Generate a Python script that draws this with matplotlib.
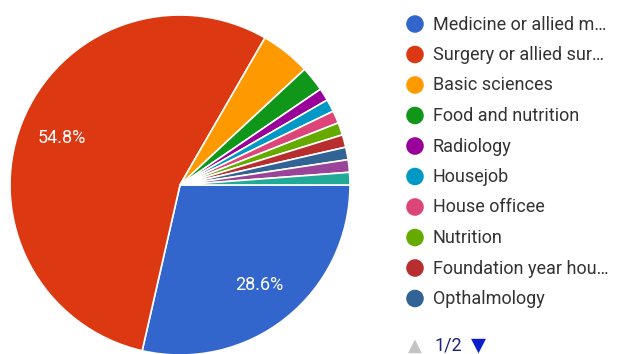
import matplotlib
matplotlib.use("Agg")
import matplotlib.pyplot as plt

# responses per category (84 in total)
labels = ["Medicine or allied m\u2026", "Surgery or allied sur\u2026", "Basic sciences",
          "Food and nutrition", "Radiology", "Housejob", "House officee", "Nutrition",
          "Foundation year hou\u2026", "Opthalmology", "Other A", "Other B"]
counts = [24, 46, 4, 2, 1, 1, 1, 1, 1, 1, 1, 1]
colors = ["#3366cc", "#dc3912", "#ff9900", "#109618", "#990099", "#0099c6",
          "#dd4477", "#66aa00", "#b82e2e", "#316395", "#994499", "#22aa99"]
legend_rows = 10  # first page of the legend

W, H = 619, 354
fig = plt.figure(figsize=(W / 100, H / 100), dpi=100)
plt.rcParams['font.family'] = ['Roboto', 'DejaVu Sans']

cx, cy, r = 180, 185, 170
ax = fig.add_axes([(cx - r) / W, (H - cy - r) / H, 2 * r / W, 2 * r / H])

def pct(p):
    return f"{p:.1f}%" if p > 10 else ""

wedges, _, autotexts = ax.pie(counts, colors=colors, startangle=0, counterclock=False,
                              autopct=pct, pctdistance=0.75,
                              wedgeprops=dict(edgecolor="white", linewidth=1.2),
                              textprops=dict(color="white", fontsize=13))
ax.set_xlim(-1, 1)
ax.set_ylim(-1, 1)
ax.set_aspect("equal")
ax.axis("off")

# legend, drawn in pixel coordinates on an overlay axes
lax = fig.add_axes([0, 0, 1, 1])
lax.set_xlim(0, W)
lax.set_ylim(H, 0)
lax.axis("off")
row_y0, row_step = 24, 30.5
for i in range(legend_rows):
    y = row_y0 + i * row_step
    lax.scatter([415], [y], s=160, color=colors[i], edgecolors="none")
    lax.text(433, y + 0.5, labels[i], fontsize=13, color="#333333", va="center", ha="left")

# pager
lax.text(408, 346, "\u25b2", fontsize=13, color="#c4c4c4", va="center", ha="left",
         family=["DejaVu Sans"])
lax.text(434, 346, "1/2", fontsize=13, color="#1a237e", va="center", ha="left")
lax.text(471, 345, "\u25bc", fontsize=14, color="#0d1ccc", va="center", ha="left",
         family=["DejaVu Sans"])

# tail of a caption cut off at the top edge
lax.text(24, -4, "g", fontsize=14, color="black", va="baseline", ha="left",
         family=["Liberation Serif"])

fig.savefig("out.png", dpi=100, facecolor="white")
